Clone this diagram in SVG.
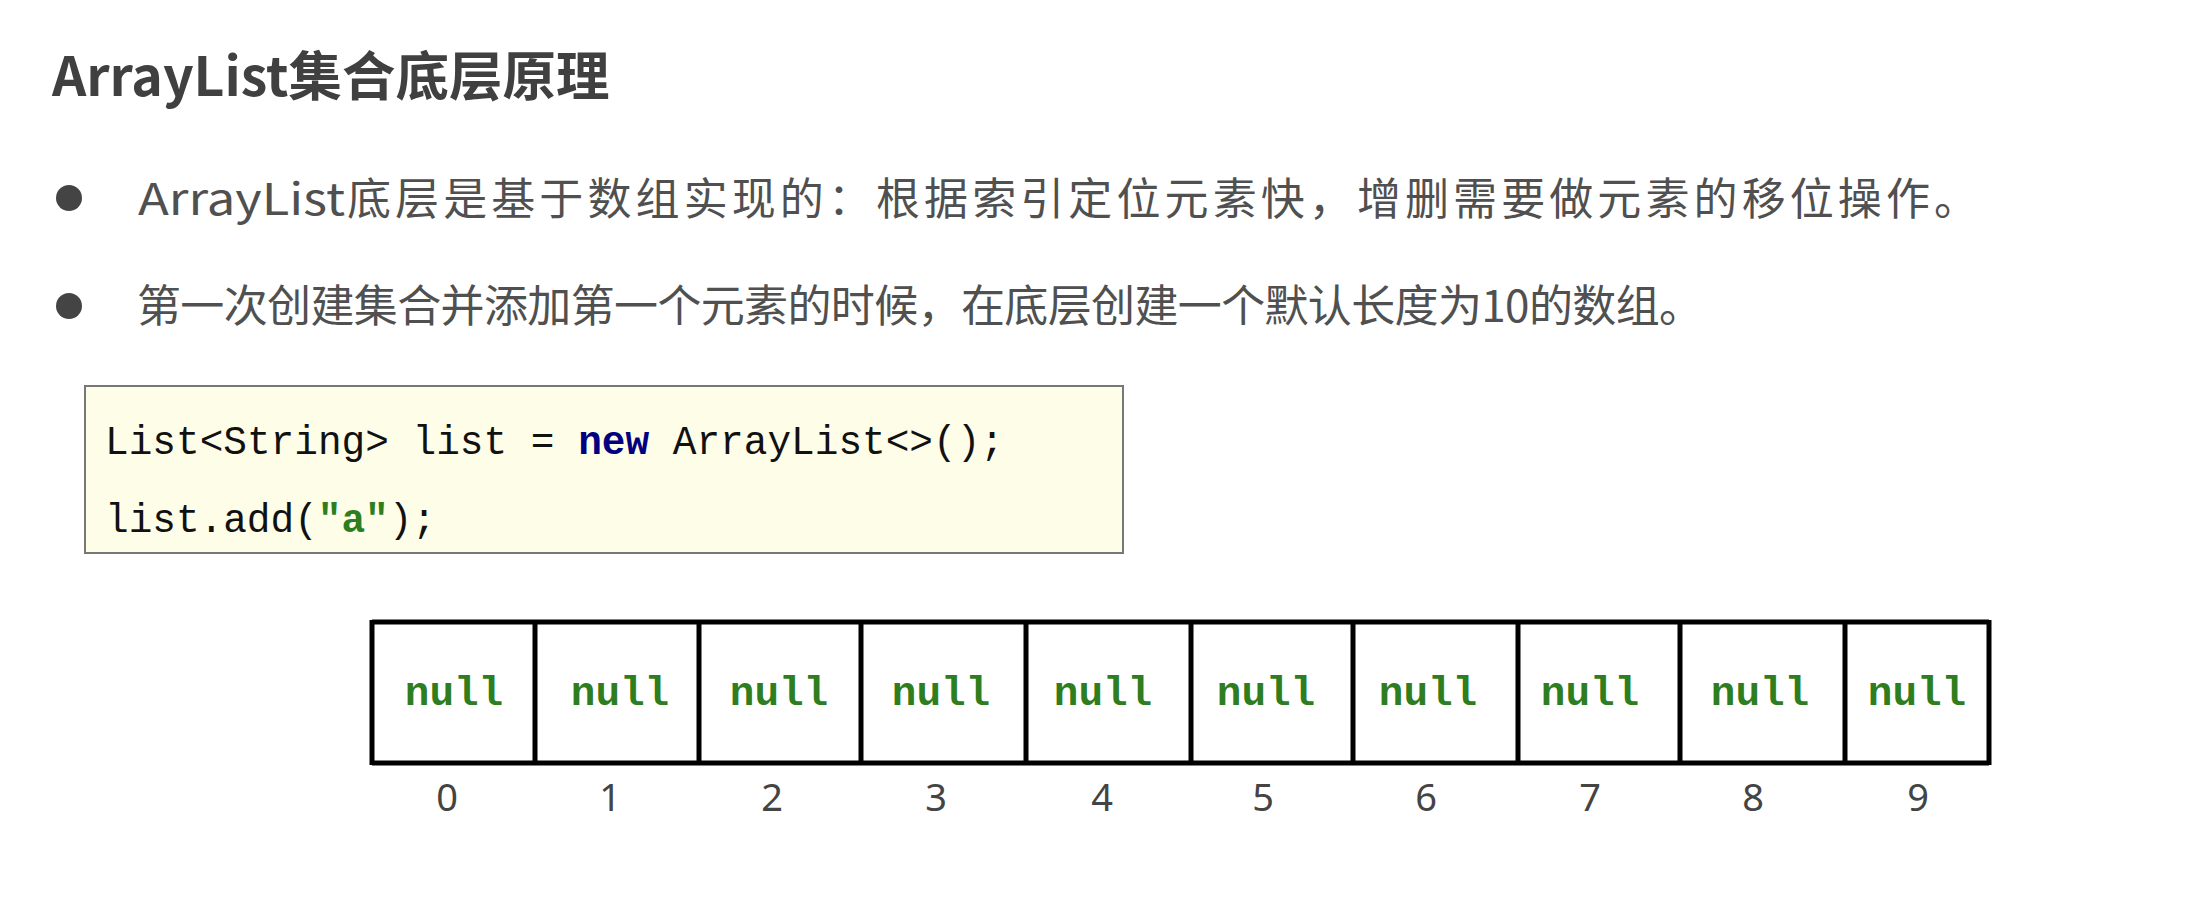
<svg xmlns="http://www.w3.org/2000/svg" width="2210" height="914" viewBox="0 0 2210 914">
<style>
.title{font-family:"Noto Sans CJK SC","Noto Sans",sans-serif;font-weight:bold;font-size:53.5px;fill:#404040}
.bt{font-family:"Noto Sans CJK SC","Noto Sans",sans-serif;font-size:44px;fill:#505050}
.code{font-family:"Liberation Mono","DejaVu Sans Mono",monospace;font-size:40px;fill:#111}
.kw{font-weight:bold;fill:#000080}
.str{font-weight:bold;fill:#2e7d1e}
.null{font-family:"Liberation Mono","DejaVu Sans Mono",monospace;font-weight:bold;font-size:41px;fill:#2e7d1e;text-anchor:middle}
.idx{font-family:"Noto Sans","Open Sans",sans-serif;font-size:38px;fill:#444;text-anchor:middle}
</style>
<rect width="2210" height="914" fill="#fff"/>
<g id="title"><text class="title" x="52" y="96">ArrayList集合底层原理</text></g>
<g id="bullet1">
<circle cx="69" cy="198" r="13" fill="#444"/>
<text class="bt" x="138" y="215" textLength="207" lengthAdjust="spacingAndGlyphs">ArrayList</text>
<text class="bt" x="347" y="215" textLength="1631" lengthAdjust="spacing">底层是基于数组实现的：根据索引定位元素快，增删需要做元素的移位操作。</text>
</g>
<g id="bullet2">
<circle cx="69" cy="306" r="13" fill="#444"/>
<text class="bt" x="137" y="322" textLength="1566" lengthAdjust="spacing">第一次创建集合并添加第一个元素的时候，在底层创建一个默认长度为10的数组。</text>
</g>
<g id="code">
<rect x="85" y="386" width="1038" height="167" fill="#fefde8" stroke="#777" stroke-width="2"/>
<text class="code" x="105" y="454" textLength="899" lengthAdjust="spacingAndGlyphs">List&lt;String&gt; list = <tspan class="kw">new</tspan> ArrayList&lt;&gt;();</text>
<text class="code" x="105" y="532" textLength="331" lengthAdjust="spacingAndGlyphs">list.add(<tspan class="str">"a"</tspan>);</text>
</g>
<g id="array">
<rect x="372" y="622" width="1617" height="141" fill="#fff" stroke="none"/>
<g stroke="#000" stroke-width="5" fill="none">
<line x1="372" y1="622" x2="1989" y2="622"/>
<line x1="372" y1="763" x2="1989" y2="763"/>
<line x1="372" y1="620" x2="372" y2="765"/>
<line x1="535" y1="622" x2="535" y2="763"/>
<line x1="699" y1="622" x2="699" y2="763"/>
<line x1="861" y1="622" x2="861" y2="763"/>
<line x1="1026" y1="622" x2="1026" y2="763"/>
<line x1="1191" y1="622" x2="1191" y2="763"/>
<line x1="1353" y1="622" x2="1353" y2="763"/>
<line x1="1518" y1="622" x2="1518" y2="763"/>
<line x1="1680" y1="622" x2="1680" y2="763"/>
<line x1="1845" y1="622" x2="1845" y2="763"/>
<line x1="1989" y1="620" x2="1989" y2="765"/>
</g>
<text class="null" x="454" y="705">null</text>
<text class="null" x="620" y="705">null</text>
<text class="null" x="779" y="705">null</text>
<text class="null" x="941" y="705">null</text>
<text class="null" x="1103" y="705">null</text>
<text class="null" x="1266" y="705">null</text>
<text class="null" x="1428" y="705">null</text>
<text class="null" x="1590" y="705">null</text>
<text class="null" x="1760" y="705">null</text>
<text class="null" x="1917" y="705">null</text>
<text class="idx" x="447" y="811">0</text>
<text class="idx" x="610" y="811">1</text>
<text class="idx" x="772" y="811">2</text>
<text class="idx" x="936" y="811">3</text>
<text class="idx" x="1102" y="811">4</text>
<text class="idx" x="1263" y="811">5</text>
<text class="idx" x="1426" y="811">6</text>
<text class="idx" x="1590" y="811">7</text>
<text class="idx" x="1753" y="811">8</text>
<text class="idx" x="1918" y="811">9</text>
</g>
</svg>
